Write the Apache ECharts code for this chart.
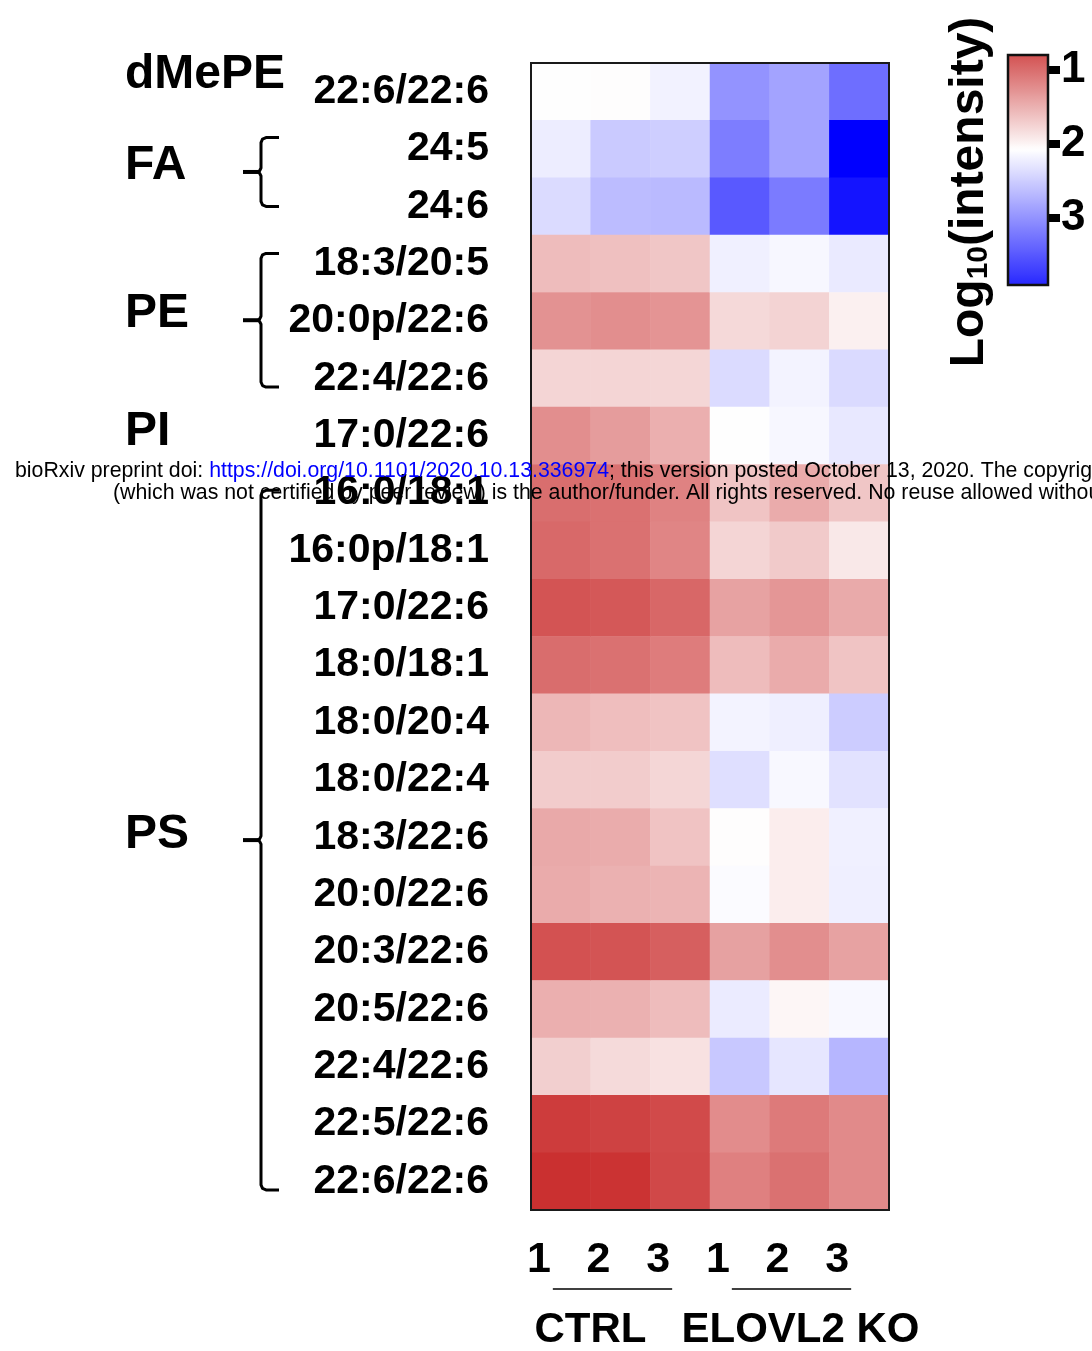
<!DOCTYPE html>
<html>
<head>
<meta charset="utf-8">
<script src="https://cdn.jsdelivr.net/npm/echarts@6/dist/echarts.min.js"></script>
<style>
html,body{margin:0;padding:0;background:#fff;}
#c{width:1092px;height:1351px;}
</style>
</head>
<body>
<div id="c"></div>
<script>
// ---------------- DATA ----------------
const rowLabels = ['22:6/22:6','24:5','24:6','18:3/20:5','20:0p/22:6','22:4/22:6','17:0/22:6',
  '16:0/18:1','16:0p/18:1','17:0/22:6','18:0/18:1','18:0/20:4','18:0/22:4','18:3/22:6',
  '20:0/22:6','20:3/22:6','20:5/22:6','22:4/22:6','22:5/22:6','22:6/22:6'];
const colLabels = ['1','2','3','1','2','3'];
const sampleGroups = ['CTRL','ELOVL2 KO'];
const lipidClasses = ['dMePE','FA','PE','PI','PS'];
const classFirstRow = [0, 1, 3, 6, 7];
const classLastRow  = [0, 2, 5, 6, 19];
const scaleTicks = [1, 2, 3];
const scaleTickLabels = ['1', '2', '3'];

// Log10(intensity), one array per sample column (rows top to bottom)
const ctrl1 = [2.08,2.23,2.38,1.59,1.28,1.77,1.25,1.02,0.98,0.83,1.01,1.55,1.71,1.45,1.47,0.81,1.50,1.73,0.66,0.57];
const ctrl2 = [2.07,2.53,2.64,1.62,1.25,1.77,1.36,1.04,1.04,0.86,1.04,1.61,1.71,1.48,1.51,0.83,1.51,1.81,0.70,0.59];
const ctrl3 = [2.19,2.49,2.66,1.66,1.30,1.78,1.50,1.17,1.19,0.97,1.12,1.64,1.78,1.64,1.53,0.91,1.59,1.86,0.76,0.74];
const ko1   = [2.98,3.17,3.47,2.20,1.80,2.38,2.08,1.65,1.77,1.40,1.59,2.18,2.35,2.07,2.12,1.39,2.25,2.54,1.24,1.15];
const ko2   = [2.85,2.85,3.19,2.15,1.76,2.18,2.15,1.47,1.69,1.31,1.47,2.21,2.14,1.95,1.95,1.25,2.02,2.29,1.11,1.04];
const ko3   = [3.30,4.22,4.05,2.26,1.97,2.39,2.27,1.66,1.91,1.46,1.65,2.51,2.32,2.20,2.21,1.40,2.14,2.69,1.23,1.23];

// ---------------- STYLE / SCALE ----------------
const FONT = '"Liberation Sans", Arial, Helvetica, sans-serif';
const VMIN = 0.51, VMID = 2.08, VMAX = 4.22;      // colour scale
const BAR_MIN = 0.8, BAR_MAX = 3.9;               // range shown by the colour bar
const RED = [200, 40, 40], WHITE = [255, 255, 255], BLUE = [0, 0, 255];
function colorAt(v) {
  let c;
  if (v <= VMID) {
    const t = Math.max(0, Math.min(1, (VMID - v) / (VMID - VMIN)));
    c = WHITE.map((w, i) => Math.round(w + (RED[i] - w) * t));
  } else {
    const s = Math.max(0, Math.min(1, (v - VMID) / (VMAX - VMID)));
    c = WHITE.map((w, i) => Math.round(w + (BLUE[i] - w) * s));
  }
  return 'rgb(' + c.join(',') + ')';
}
const N = 120;
const mapColors = [];
for (let k = 0; k <= N; k++) mapColors.push(colorAt(VMIN + (VMAX - VMIN) * k / N));
const barStops = [];
for (let k = 0; k <= 60; k++) barStops.push({offset: k / 60, color: colorAt(BAR_MIN + (BAR_MAX - BAR_MIN) * k / 60)});

const columns = [ctrl1, ctrl2, ctrl3, ko1, ko2, ko3];
const heatData = [];
columns.forEach((col, ci) => col.forEach((v, ri) => heatData.push([ci, ri, v])));

const chart = echarts.init(document.getElementById('c'), null, {renderer: 'canvas', width: 1092, height: 1351});

const innerTickAxis = (pos) => ({type: 'value', gridIndex: 1, min: BAR_MIN, max: BAR_MAX, inverse: true, position: pos,
  axisLine: {show: false}, splitLine: {show: false}, axisLabel: {show: false},
  axisTick: {show: true, inside: true, length: 6, lineStyle: {color: '#333', width: 1.5}, customValues: scaleTicks}});

const option = {
  backgroundColor: '#ffffff',
  animation: false,
  textStyle: {fontFamily: FONT},
  grid: [
    {left: 531, top: 63, width: 358, height: 1147, show: true, borderColor: '#1a1a1a', borderWidth: 2, backgroundColor: 'transparent', z: 5},
    {left: 1008, top: 55, width: 40, height: 230, show: false}
  ],
  xAxis: [
    {type: 'category', gridIndex: 0, data: colLabels, axisLine: {show: false}, axisTick: {show: false}, splitLine: {show: false},
     axisLabel: {fontSize: 43, fontWeight: 'bold', color: '#000', margin: 29, padding: [0, 44, 0, 0], fontFamily: FONT}},
    {type: 'category', gridIndex: 1, data: ['bar'], show: false}
  ],
  yAxis: [
    {type: 'category', gridIndex: 0, data: rowLabels, inverse: true, axisLine: {show: false}, axisTick: {show: false}, splitLine: {show: false},
     axisLabel: {fontSize: 41, fontWeight: 'bold', color: '#000', margin: 42, fontFamily: FONT}},
    {type: 'value', gridIndex: 1, min: BAR_MIN, max: BAR_MAX, inverse: true, position: 'right',
     axisLine: {show: false}, splitLine: {show: false},
     axisTick: {show: true, length: 12, lineStyle: {color: '#000', width: 8, cap: 'butt'}, customValues: scaleTicks},
     axisLabel: {customValues: scaleTicks, formatter: v => scaleTickLabels[scaleTicks.indexOf(Math.round(v))] || '',
                 fontSize: 44, fontWeight: 'bold', color: '#000', margin: 13, fontFamily: FONT}},
    innerTickAxis('left'),
    Object.assign(innerTickAxis('right'), {offset: 0})
  ],
  visualMap: {type: 'continuous', show: false, seriesIndex: 0, dimension: 2, min: VMIN, max: VMAX, inRange: {color: mapColors}},
  series: [
    {type: 'heatmap', xAxisIndex: 0, yAxisIndex: 0, data: heatData, itemStyle: {borderWidth: 0}, emphasis: {disabled: true}, progressive: 0},
    {type: 'custom', xAxisIndex: 1, yAxisIndex: 1, data: [[0, BAR_MIN]], clip: false, silent: true, z: 1,
     renderItem: (params) => {
       const cs = params.coordSys;
       return {type: 'rect', shape: {x: cs.x, y: cs.y, width: cs.width, height: cs.height},
               style: {fill: {type: 'linear', x: 0, y: 0, x2: 0, y2: 1, colorStops: barStops}, stroke: '#111', lineWidth: 2.5}};
     }}
  ]
};
chart.setOption(option);

// ---------------- ANNOTATIONS (computed from the axes) ----------------
const px = (c, r) => chart.convertToPixel({gridIndex: 0}, [c, r]);
const rowH = px(0, 1)[1] - px(0, 0)[1];
const braceX = 261, braceHook = 279, braceNub = 243;
const braceInset = {FA: [-0.2, 0], PE: [-0.18, 0.15], PS: [-0.05, 0.15]};
const labelDy = {dMePE: -17, FA: -6, PE: -6, PI: -4, PS: -5};
const elements = [];
lipidClasses.forEach((name, gi) => {
  const y0 = px(0, classFirstRow[gi])[1], y1 = px(0, classLastRow[gi])[1];
  let mid = (y0 + y1) / 2;
  if (classLastRow[gi] > classFirstRow[gi]) {
    const ins = braceInset[name] || [-0.15, 0.1];
    const top = y0 + ins[0] * rowH, bot = y1 + ins[1] * rowH;
    mid = (top + bot) / 2;
    elements.push({type: 'polyline', z: 50,
      shape: {points: [[braceHook, top], [braceX + 5, top], [braceX + 1.5, top + 1.5], [braceX, top + 5],
                       [braceX, mid - 4], [braceX - 1.5, mid - 1], [braceX - 3, mid],
                       [braceX - 1.5, mid + 1], [braceX, mid + 4],
                       [braceX, bot - 5], [braceX + 1.5, bot - 1.5], [braceX + 5, bot], [braceHook, bot]]},
      style: {fill: null, stroke: '#000', lineWidth: 3, lineJoin: 'round'}});
    elements.push({type: 'line', z: 50, shape: {x1: braceNub, y1: mid, x2: braceX - 2, y2: mid},
      style: {stroke: '#000', lineWidth: 4}});
  }
  elements.push({type: 'text', x: 125, y: mid + (labelDy[name] || 0), z: 50,
    style: {text: name, fontSize: 48, fontWeight: 'bold', fontFamily: FONT, fill: '#000', align: 'left', verticalAlign: 'middle'}});
});

const sampleDx = [-30, 1];
sampleGroups.forEach((name, gi) => {
  const xa = px(gi * 3, 0)[0], xb = px(gi * 3 + 2, 0)[0];
  elements.push({type: 'line', shape: {x1: xa - 8, y1: 1289, x2: xb - 8, y2: 1289}, style: {stroke: '#000', lineWidth: 1.6}, z: 50});
  elements.push({type: 'text', x: (xa + xb) / 2 + sampleDx[gi], y: 1330, z: 50,
    style: {text: name, fontSize: 42, fontWeight: 'bold', fontFamily: FONT, fill: '#000', align: 'center', verticalAlign: 'middle'}});
});

// colour bar title
elements.push({type: 'text', x: 970, y: 192, rotation: Math.PI / 2, z: 50,
  style: {text: '{a|Log}{s|10}{a|(intensity)}', align: 'center', verticalAlign: 'middle',
    rich: {a: {fontSize: 48, fontWeight: 'bold', fontFamily: FONT, fill: '#000', verticalAlign: 'bottom'},
           s: {fontSize: 30, fontWeight: 'bold', fontFamily: FONT, fill: '#000', verticalAlign: 'bottom'}}}});

// preprint watermark
elements.push({type: 'text', x: 15, y: 471, z: 100,
  style: {text: '{a|bioRxiv preprint doi: }{b|https://doi.org/10.1101/2020.10.13.336974}{a|; this version posted October 13, 2020. The copyright holder for this preprint}',
    verticalAlign: 'middle', align: 'left',
    rich: {a: {fontSize: 21.3, fontFamily: FONT, fill: '#000'}, b: {fontSize: 21.3, fontFamily: FONT, fill: '#0000ff'}}}});
elements.push({type: 'text', x: 113, y: 493, z: 100,
  style: {text: '(which was not certified by peer review) is the author/funder. All rights reserved. No reuse allowed without permission.',
    fontSize: 21.3, fontFamily: FONT, fill: '#000', verticalAlign: 'middle', align: 'left'}});

chart.setOption({graphic: elements});
</script>
</body>
</html>
